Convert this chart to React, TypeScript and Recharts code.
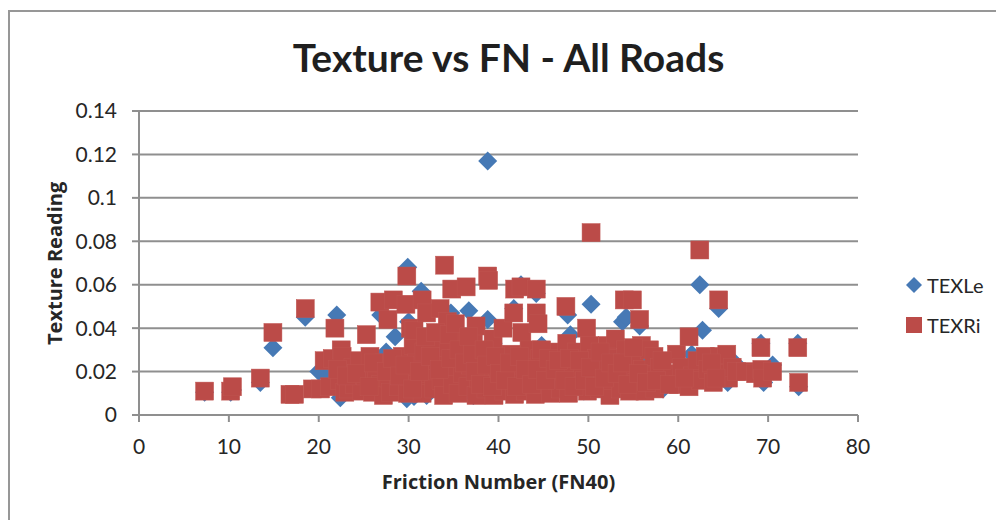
import { CartesianGrid, Legend, ScatterChart, Scatter, XAxis, YAxis } from 'recharts'

const FONT = 'Lato, "Open Sans", sans-serif'
const LABEL_FONT = '"Open Sans", Lato, sans-serif'
const BLUE = '#4679b5'
const RED = '#bb4b48'
const AXIS_GRAY = '#8f8f8f'
const TEXT = '#262626'

const xTicks = [0, 10, 20, 30, 40, 50, 60, 70, 80]
const yTicks = [0, 0.02, 0.04, 0.06, 0.08, 0.1, 0.12, 0.14]

// [FN40, texture]
const texLe = [
  [7.3, 0.0105], [10.2, 0.0105], [10.4, 0.0115], [13.5, 0.015], [14.9, 0.031], [18.5, 0.045],
  [20, 0.02], [21, 0.018], [22, 0.046], [22.4, 0.008], [23.5, 0.016], [26.9, 0.046], [27.5, 0.029],
  [28.5, 0.036], [29.8, 0.0075], [29.9, 0.068], [30, 0.043], [30.6, 0.0085], [31.4, 0.057],
  [32, 0.009], [33, 0.03], [34.7, 0.047], [35, 0.012], [36.7, 0.048], [37.2, 0.009], [38.8, 0.117],
  [38.8, 0.044], [39.4, 0.033], [40.2, 0.02], [41.7, 0.049], [42.5, 0.06], [43.5, 0.011],
  [44.2, 0.056], [44.8, 0.032], [45.5, 0.025], [47.7, 0.046], [48, 0.037], [48.6, 0.029],
  [49.5, 0.011], [50.3, 0.051], [52.2, 0.0095], [52.9, 0.024], [53.8, 0.043], [54.2, 0.045],
  [55.7, 0.041], [56.2, 0.026], [57.2, 0.022], [58.3, 0.012], [61.5, 0.028], [62.4, 0.06],
  [62.7, 0.039], [64.5, 0.049], [65.5, 0.015], [66.3, 0.024], [69.2, 0.033], [69.5, 0.015],
  [70.5, 0.023], [73.3, 0.033], [73.4, 0.013],
]

const texRi = [
  [7.3, 0.011], [10.2, 0.011], [10.4, 0.013], [13.5, 0.017], [14.9, 0.038], [16.8, 0.0095],
  [17.3, 0.0095], [18.5, 0.049], [19.3, 0.012], [20.2, 0.012], [20.6, 0.025], [21.2, 0.013],
  [21.5, 0.026], [21.8, 0.04], [22.3, 0.016], [22.5, 0.03], [22.6, 0.027], [22.9, 0.0105],
  [23.3, 0.012], [23.8, 0.022], [24, 0.014], [24.5, 0.025], [24.8, 0.011], [25.2, 0.018],
  [25.3, 0.037], [25.7, 0.027], [26, 0.0105], [26.4, 0.02], [26.8, 0.052], [26.9, 0.014],
  [27.2, 0.009], [27.3, 0.024], [27.7, 0.044], [27.8, 0.017], [28, 0.0105], [28.3, 0.053],
  [28.5, 0.021], [28.9, 0.013], [29.3, 0.027], [29.7, 0.051], [29.8, 0.064], [29.9, 0.01],
  [30.1, 0.018], [30.2, 0.04], [30.5, 0.032], [30.6, 0.039], [30.9, 0.024], [31, 0.014],
  [31.5, 0.053], [31.5, 0.01], [31.7, 0.029], [32, 0.047], [32.2, 0.019], [32.6, 0.034],
  [32.8, 0.012], [33.2, 0.025], [33.5, 0.049], [33.6, 0.016], [33.9, 0.009], [34, 0.069],
  [34.1, 0.021], [34.3, 0.043], [34.4, 0.031], [34.8, 0.058], [34.9, 0.014], [35.3, 0.026],
  [35.5, 0.01], [35.8, 0.035], [36, 0.019], [36.4, 0.059], [36.4, 0.029], [36.6, 0.013],
  [36.9, 0.023], [37.2, 0.034], [37.5, 0.041], [37.5, 0.009], [37.8, 0.017], [38.2, 0.026],
  [38.6, 0.012], [38.8, 0.064], [38.9, 0.062], [39, 0.02], [39.4, 0.035], [39.5, 0.009],
  [39.9, 0.015], [40.3, 0.024], [40.5, 0.04], [40.6, 0.011], [41, 0.019], [41.4, 0.028],
  [41.7, 0.047], [41.8, 0.058], [41.8, 0.0095], [42.1, 0.016], [42.5, 0.059], [42.6, 0.038],
  [42.7, 0.023], [43, 0.011], [43.4, 0.03], [43.6, 0.018], [44.2, 0.058], [44.2, 0.047],
  [44.1, 0.0095], [44.4, 0.042], [44.6, 0.026], [44.9, 0.014], [45.4, 0.021], [45.8, 0.01],
  [46.1, 0.029], [46.5, 0.016], [46.9, 0.012], [47.2, 0.024], [47.5, 0.05], [47.6, 0.033],
  [47.8, 0.01], [48.2, 0.019], [48.7, 0.029], [48.9, 0.014], [49.3, 0.022], [49.8, 0.04],
  [49.9, 0.011], [50.1, 0.032], [50.3, 0.084], [50.5, 0.018], [50.9, 0.026], [51.2, 0.012],
  [51.6, 0.021], [52.1, 0.032], [52.4, 0.009], [52.7, 0.016], [53, 0.035], [53.1, 0.026],
  [53.6, 0.012], [54, 0.053], [54.1, 0.03], [54.3, 0.019], [54.6, 0.011], [54.9, 0.053],
  [55.1, 0.025], [55.4, 0.015], [55.7, 0.044], [55.9, 0.032], [56, 0.021], [56.3, 0.011],
  [56.8, 0.03], [57, 0.018], [57.3, 0.027], [57.4, 0.012], [57.9, 0.022], [58.5, 0.016],
  [59.4, 0.019], [59.8, 0.028], [60, 0.014], [60.4, 0.022], [61.2, 0.036], [61.2, 0.013],
  [61.6, 0.018], [62.1, 0.025], [62.4, 0.076], [62.5, 0.016], [63, 0.027], [63.3, 0.021],
  [63.9, 0.015], [64.5, 0.053], [64.6, 0.027], [64.9, 0.019], [65.4, 0.028], [65.6, 0.017],
  [66, 0.022], [66.5, 0.02], [67.5, 0.02], [68.6, 0.019], [69.2, 0.031], [69.3, 0.021],
  [69.4, 0.017], [70.5, 0.02], [73.3, 0.031], [73.4, 0.015],
  // denser part of the cloud
  [22.1, 0.021], [23.1, 0.018], [24.2, 0.019], [25.6, 0.013], [26.1, 0.024], [27.5, 0.02],
  [28.2, 0.026], [29, 0.018], [29.6, 0.023], [30.4, 0.012], [31.2, 0.02], [31.9, 0.036],
  [32.4, 0.027], [33, 0.038], [33.4, 0.021], [34.5, 0.037], [34.7, 0.026], [35.2, 0.042],
  [35.6, 0.03], [36.2, 0.024], [36.7, 0.036], [37.1, 0.028], [37.4, 0.02], [38, 0.014],
  [38.4, 0.03], [38.7, 0.023], [39.3, 0.013], [39.7, 0.027], [40.1, 0.019], [40.8, 0.016],
  [41.2, 0.024], [42, 0.013], [42.3, 0.027], [43, 0.021], [43.7, 0.014], [44.3, 0.021],
  [44.8, 0.03], [45.2, 0.016], [45.6, 0.026], [46.3, 0.021], [46.7, 0.025], [47.4, 0.016],
  [47.9, 0.026], [48.4, 0.013], [49, 0.025], [49.6, 0.016], [50.2, 0.022], [50.7, 0.013],
  [51.3, 0.029], [51.8, 0.017], [52.5, 0.024], [53.2, 0.019], [53.8, 0.024], [54.4, 0.014],
  [55, 0.031], [55.6, 0.019], [56.5, 0.015], [57.6, 0.016], [58.2, 0.025], [59, 0.014],
  [60.7, 0.017], [63.7, 0.024], [64.2, 0.017],
]

const toRows = (pairs: number[][]) => pairs.map(([fn, tex]) => ({ fn, tex }))

function DiamondMark({ cx, cy }: any) {
  const r = 9.5
  return <path d={`M${cx},${cy - r}L${cx + r},${cy}L${cx},${cy + r}L${cx - r},${cy}Z`} fill={BLUE} />
}

function SquareMark({ cx, cy }: any) {
  return <rect x={cx - 9} y={cy - 9} width={18} height={18} fill={RED} stroke="#bf5551" strokeWidth={0.5} />
}

function KeyBox() {
  return (
    <div style={{ fontFamily: FONT, fontSize: 20, color: TEXT }}>
      <div style={{ position: 'absolute', left: 0, top: 0, display: 'flex', alignItems: 'center' }}>
        <svg width={16} height={16} style={{ marginRight: 5 }}>
          <path d="M8,0L16,8L8,16L0,8Z" fill={BLUE} />
        </svg>
        TEXLe
      </div>
      <div style={{ position: 'absolute', left: 0, top: 40, display: 'flex', alignItems: 'center' }}>
        <svg width={16} height={16} style={{ marginRight: 5 }}>
          <rect width={16} height={16} fill={RED} />
        </svg>
        TEXRi
      </div>
    </div>
  )
}

export default function App() {
  return (
    <div style={{ position: 'absolute', left: 0, top: 0, width: 996, height: 520, background: '#fff', overflow: 'hidden' }}>
      <div style={{ position: 'absolute', left: 8, top: 10, width: 988, height: 510, borderLeft: '2px solid #979797', borderTop: '2px solid #979797' }} />
      <div style={{ position: 'absolute', left: 0, width: 1017, top: 32, textAlign: 'center', fontFamily: FONT, fontWeight: 700, fontSize: 39, lineHeight: '50px', color: '#1f1f1f' }}>
        Texture vs FN - All Roads
      </div>
      <ScatterChart width={996} height={520} margin={{ top: 111, right: 48, bottom: 0, left: 37 }}>
        <CartesianGrid horizontal vertical={false} stroke={AXIS_GRAY} strokeWidth={2} />
        <XAxis
          type="number"
          dataKey="fn"
          domain={[0, 80]}
          ticks={xTicks}
          interval={0}
          height={105}
          stroke={AXIS_GRAY}
          strokeWidth={2}
          tickSize={7}
          tickMargin={17}
          tick={{ fontFamily: FONT, fontSize: 21, fill: TEXT }}
          label={{ value: 'Friction Number (FN40)', position: 'insideTop', offset: 60, fontFamily: LABEL_FONT, fontWeight: 700, fontSize: 20, fill: TEXT }}
        />
        <YAxis
          type="number"
          dataKey="tex"
          domain={[0, 0.14]}
          ticks={yTicks}
          interval={0}
          width={102}
          stroke={AXIS_GRAY}
          strokeWidth={2}
          tickSize={7}
          tickMargin={15}
          tick={{ fontFamily: FONT, fontSize: 21, fill: TEXT }}
          label={{ value: 'Texture Reading', angle: -90, position: 'insideLeft', offset: 18, dy: 82, fontFamily: LABEL_FONT, fontWeight: 700, fontSize: 20, fill: TEXT }}
        />
        <Legend
          layout="vertical"
          align="right"
          verticalAlign="top"
          wrapperStyle={{ position: 'absolute', left: 906, top: 273, width: 90, height: 70 }}
          content={() => <KeyBox />}
        />
        <Scatter name="TEXLe" data={toRows(texLe)} shape={DiamondMark} isAnimationActive={false} />
        <Scatter name="TEXRi" data={toRows(texRi)} shape={SquareMark} isAnimationActive={false} />
      </ScatterChart>
    </div>
  )
}
